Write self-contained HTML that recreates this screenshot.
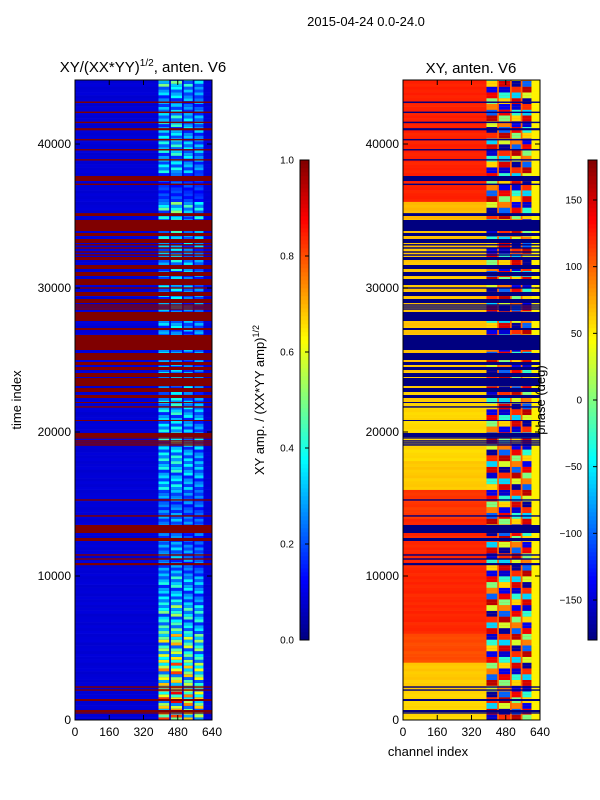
<!DOCTYPE html>
<html><head><meta charset="utf-8">
<style>
html,body{margin:0;padding:0;background:#fff;}
svg{display:block;font-family:"Liberation Sans",sans-serif;}
</style></head>
<body>
<svg id="fig" width="600" height="800" viewBox="0 0 600 800">
<rect width="600" height="800" fill="#fff"/>
<text x="366" y="26" font-size="13" text-anchor="middle">2015-04-24 0.0-24.0</text>
<text x="143" y="72" font-size="15" text-anchor="middle">XY/(XX*YY)<tspan font-size="10" dy="-6">1/2</tspan><tspan dy="6">, anten. V6</tspan></text>
<text x="471" y="73" font-size="15" text-anchor="middle">XY, anten. V6</text>
<g id="left"></g>
<g id="right"></g>
<g id="cb1"></g>
<g id="cb2"></g>
<g id="axes"></g>
<text transform="translate(21,400) rotate(-90)" font-size="13" text-anchor="middle">time index</text>
<text x="428" y="756" font-size="13" text-anchor="middle">channel index</text>
<text transform="translate(264,400) rotate(-90)" font-size="13" text-anchor="middle">XY amp. / (XX*YY amp)<tspan font-size="9" dy="-5">1/2</tspan></text>
<text transform="translate(545,400) rotate(-90)" font-size="13" text-anchor="middle">phase (deg)</text>
</svg>
<script>
// ---- data ----
const xTicks = [0,160,320,480,640];
const yTicks = [0,10000,20000,30000,40000];
const ampTicks = [0.0,0.2,0.4,0.6,0.8,1.0];
const phaseTicks = [-150,-100,-50,0,50,100,150];
// flagged time intervals [start,end]
const flags = [[42850,42950],[42150,42250],[41450,41550],[40950,41100],[40250,40350],[39550,39650],[38850,38950],
[37431,37778],[37150,37250],[35000,35200],[33958,34722],[33611,33819],[33125,33403],[32950,33050],[32730,32830],
[32450,32550],[32240,32340],[31944,32153],[31319,31597],[30833,31111],[30208,30625],[29950,30050],[29444,29722],
[28958,29236],[28770,28870],[28630,28730],[28490,28590],[27708,28333],[27083,27222],[25694,26736],[25000,25486],
[24653,24861],[24306,24514],[23819,24097],[23194,23750],[22778,23056],[22361,22569],[22014,22083],[21690,21790],
[20764,20833],[19653,19931],[19540,19640],[19330,19430],[19190,19290],[19050,19150],[15230,15330],[14120,14220],
[12986,13542],[12431,12639],[11410,11510],[11130,11230],[10750,10900],[2240,2340],[2030,2130],[1319,1458],[556,694],[440,540]];
// amplitude intensity of RFI columns per 2000-unit block
const ampIntensity = [0.72,0.65,0.55,0.4,0.3,0.22,0.2,0.2,0.3,0.32,0.3,0.3,0.25,0.25,0.25,0.28,0.3,0.38,0.12,0.3,0.3,0.25,0.4];
// base phase (deg) of clean channels per 2000-unit block
const phaseBase = [55,60,105,118,118,118,118,112,60,55,55,60,62,62,62,62,62,65,120,120,120,120,120];
const stripe = [1,0.5,0.9,0.3,0.8,0.6,0.2,1,0.7,0.4];
const phasePattern = [-150,150,-60,120,-170,30,160,-100,90,0,140,-140,60,-30];
const subCols = [[390,440],[448,500],[508,550],[558,600]];
const colWeight = [1,1.1,0.9,0.8];
const tMax = 44450, cMax = 640;

// ---- helpers ----
const NS="http://www.w3.org/2000/svg";
function jet(v){v=Math.max(0,Math.min(1,v));
 const f=(x)=>Math.max(0,Math.min(1,1.5-Math.abs(4*v-x)));
 return `rgb(${Math.round(255*f(3))},${Math.round(255*f(2))},${Math.round(255*f(1))})`;}
function mk(tag,attrs,parent){const e=document.createElementNS(NS,tag);for(const k in attrs)e.setAttribute(k,attrs[k]);parent.appendChild(e);return e;}
function panel(x0){return {x:(c)=>x0+c*(137/cMax), y:(t)=>720-t*0.0144};}
const L=panel(75), R=panel(403);
const step=200;
const gL=document.getElementById('left'), gR=document.getElementById('right');
for(let r=0;r*step<tMax;r++){
  const t0=r*step,t1=Math.min(tMax,t0+step),b=Math.min(22,Math.floor(t0/2000));
  const yT=L.y(t1),h=L.y(t0)-yT+0.3;
  let e=mk('rect',{x:L.x(0),y:yT,width:L.x(cMax)-L.x(0),height:h,fill:jet(0.075+0.015*stripe[r%10])},gL);
  
  
  e=mk('rect',{x:R.x(0),y:yT,width:R.x(390)-R.x(0),height:h,fill:jet((phaseBase[b]+6*stripe[(r+3)%10]+180)/360)},gR);
  
  
  e=mk('rect',{x:R.x(390),y:yT,width:R.x(600)-R.x(390),height:h,fill:jet((100+180)/360)},gR);
  
  
  e=mk('rect',{x:R.x(600),y:yT,width:R.x(640)-R.x(600),height:h,fill:jet((50+180)/360)},gR);
  
  
  subCols.forEach((sc,i)=>{
    const v=0.1+ampIntensity[b]*stripe[(r+i)%10]*colWeight[i];
    let c=mk('rect',{x:L.x(sc[0]),y:yT,width:L.x(sc[1])-L.x(sc[0]),height:h,fill:jet(v)},gL);
    
    
    const p=phasePattern[(Math.floor(r/2)+i*3)%phasePattern.length];
    c=mk('rect',{x:R.x(sc[0]),y:yT,width:R.x(sc[1])-R.x(sc[0]),height:h,fill:jet((p+180)/360)},gR);
    
    
  });
}
flags.forEach(f=>{
  const yT=L.y(Math.min(tMax,f[1])),h=Math.max(1,L.y(f[0])-yT);
  let e=mk('rect',{x:L.x(0),y:yT,width:137,height:h,fill:jet(1)},gL);
  
  
  e=mk('rect',{x:R.x(0),y:yT,width:137,height:h,fill:jet(0)},gR);
  
  
});
function colorbar(g,x0,min,max,ticks,isPhase){
  for(let i=0;i<120;i++){
    const e=mk('rect',{x:x0,y:160+480-(i+1)*4,width:9,height:4.3,fill:jet((i+0.5)/120)},g);
    
    
  }
  mk('rect',{x:x0,y:160,width:9,height:480,fill:'none',stroke:'#000','stroke-width':1},g);
  ticks.forEach(t=>{const y=640-(t-min)/(max-min)*480;
    mk('line',{x1:x0+9,x2:x0+5,y1:y,y2:y,stroke:'#000'},g);
    const tx=mk('text',{x:x0-6,y:y+3.5,'font-size':10,'text-anchor':'end'},g);
    tx.textContent=isPhase?String(t).replace('-','\u2212'):t.toFixed(1);
    
    
  });
}
colorbar(document.getElementById('cb1'),300,0,1,ampTicks,false);
colorbar(document.getElementById('cb2'),588,-180,180,phaseTicks,true);
const gA=document.getElementById('axes');
[[L,75],[R,403]].forEach(([P,x0])=>{
  mk('rect',{x:x0,y:80,width:137,height:640,fill:'none',stroke:'#000','stroke-width':1},gA);
  xTicks.forEach(v=>{const x=P.x(v);
    mk('line',{x1:x,x2:x,y1:720,y2:715,stroke:'#000'},gA);
    mk('line',{x1:x,x2:x,y1:80,y2:85,stroke:'#000'},gA);
    const t=mk('text',{x:x,y:736,'font-size':12,'text-anchor':'middle'},gA);t.textContent=v;
    
    
  });
  yTicks.forEach(v=>{const y=P.y(v);
    mk('line',{x1:x0,x2:x0+5,y1:y,y2:y,stroke:'#000'},gA);
    mk('line',{x1:x0+137,x2:x0+132,y1:y,y2:y,stroke:'#000'},gA);
    const t=mk('text',{x:x0-4,y:y+4,'font-size':12,'text-anchor':'end'},gA);t.textContent=v;
    
    
  });
});
</script>
</body></html>
